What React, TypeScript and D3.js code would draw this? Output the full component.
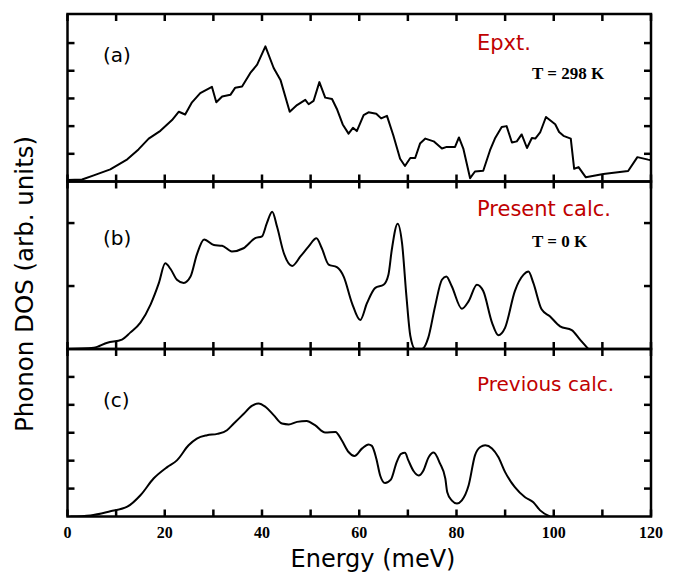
import * as d3 from "d3";

// Phonon DOS: [energy (meV), DOS (arb. units)]
const exptDos: [number, number][] = [
  [0, 0.05], [3, 0.07], [5.4, 0.22], [8.8, 0.44], [12.3, 0.8], [14.6, 1.16], [16.7, 1.55],
  [19.1, 1.83], [21.5, 2.22], [22.9, 2.52], [24.2, 2.42], [25.6, 2.86], [27.3, 3.19],
  [29.7, 3.42], [30.6, 2.86], [31.8, 3.07], [33.5, 3.13], [34.5, 3.39], [35.9, 3.43],
  [37.6, 3.92], [39.0, 4.22], [40.7, 4.88], [42.4, 4.1], [43.8, 3.67], [45.7, 2.52],
  [47.2, 2.76], [48.9, 2.95], [49.6, 2.79], [50.6, 2.91], [51.8, 3.59], [53.0, 3.03],
  [54.4, 2.98], [55.4, 2.62], [56.6, 2.06], [57.8, 1.73], [58.7, 1.94], [59.5, 1.82],
  [60.9, 2.4], [61.9, 2.5], [63.5, 2.45], [64.5, 2.28], [65.7, 2.37], [67.0, 1.67],
  [68.4, 0.82], [69.4, 0.56], [70.5, 0.85], [71.5, 0.85], [72.5, 1.37], [73.6, 1.55],
  [75.3, 1.45], [77.0, 1.19], [78.0, 1.25], [79.7, 1.25], [80.5, 1.59], [81.4, 1.19],
  [82.8, 0.12], [83.8, 0.36], [85.5, 0.39], [86.9, 1.13], [87.9, 1.55], [89.3, 1.97],
  [90.3, 2.0], [91.4, 1.41], [92.4, 1.45], [93.4, 1.7], [94.5, 1.21], [95.5, 1.57],
  [96.2, 1.55], [97.2, 1.77], [98.4, 2.33], [100.3, 2.07], [101.1, 1.79], [102.0, 1.65],
  [103.5, 1.55], [104.2, 0.46], [105.1, 0.52], [106.6, 0.15], [110.2, 0.27], [115.3, 0.38],
  [117.2, 0.88], [119.4, 0.79], [120, 0.77],
];

const presentDos: [number, number][] = [
  [0, 0], [5.4, 0.02], [8.2, 0.1], [11.2, 0.15], [12.9, 0.26], [15.0, 0.42], [17.1, 0.71],
  [18.8, 1.05], [20.1, 1.36], [21.2, 1.27], [22.5, 1.1], [23.9, 1.05], [25.3, 1.15],
  [26.6, 1.5], [28.1, 1.74], [30.1, 1.65], [31.8, 1.64], [33.8, 1.55], [36.2, 1.6],
  [38.6, 1.76], [40.0, 1.79], [41.0, 2.0], [42.1, 2.18], [43.1, 1.94], [44.5, 1.52],
  [46.2, 1.32], [47.9, 1.47], [49.6, 1.63], [51.2, 1.76], [52.3, 1.6], [53.7, 1.34],
  [55.4, 1.3], [56.8, 1.15], [58.5, 0.73], [60.2, 0.46], [61.6, 0.73], [63.3, 0.97],
  [65.0, 1.02], [66.0, 1.18], [66.7, 1.58], [67.9, 1.99], [68.8, 1.68], [69.7, 0.84],
  [70.5, 0.21], [71.5, 0], [72.9, 0], [74.2, 0.18], [75.6, 0.68], [77.0, 1.1], [77.9, 1.15],
  [79.0, 1.0], [81.1, 0.64], [82.5, 0.76], [84.2, 1.02], [85.5, 0.92], [87.3, 0.42],
  [88.6, 0.22], [90.0, 0.34], [92.0, 0.92], [93.8, 1.18], [94.8, 1.23], [95.8, 1.05],
  [97.5, 0.63], [99.2, 0.52], [101.3, 0.36], [103.7, 0.3], [105.4, 0.15], [107.1, 0],
];

const previousDos: [number, number][] = [
  [0.6, 0], [4.7, 0.04], [8.8, 0.19], [12.3, 0.35], [15.0, 0.76], [17.7, 1.36], [20.5, 1.77],
  [22.5, 2.01], [24.9, 2.55], [26.6, 2.79], [28.7, 2.91], [30.8, 2.96], [32.8, 3.09],
  [34.2, 3.33], [36.2, 3.67], [37.9, 3.96], [39.3, 4.05], [40.7, 3.93], [42.4, 3.63],
  [44.1, 3.33], [45.5, 3.3], [47.2, 3.39], [49.2, 3.42], [50.9, 3.27], [53.0, 3.01],
  [55.1, 3.03], [56.4, 2.73], [57.8, 2.31], [59.0, 2.17], [60.6, 2.44], [61.9, 2.58],
  [62.6, 2.53], [63.5, 2.08], [64.3, 1.47], [65.3, 1.2], [66.5, 1.32], [67.7, 1.95],
  [68.6, 2.24], [69.4, 2.28], [70.1, 2.01], [71.2, 1.62], [72.2, 1.47], [73.2, 1.65],
  [74.2, 2.1], [75.3, 2.29], [76.6, 1.9], [77.7, 1.36], [78.1, 0.87], [79.0, 0.58],
  [80.1, 0.47], [81.1, 0.58], [82.5, 1.12], [83.8, 2.19], [84.9, 2.49], [85.9, 2.55],
  [87.3, 2.44], [88.6, 2.13], [90.0, 1.59], [92.0, 1.05], [94.1, 0.69], [95.8, 0.51],
  [97.2, 0.22], [99.2, 0],
];

const xTicks = d3.range(0, 121, 10);
const xLabels = [0, 20, 40, 60, 80, 100, 120];

const panels = [
  { tag: "(a)", tagY: 48, name: "Epxt.", nameY: 36, nameSize: 21, temp: "T = 298 K", data: exptDos, yMax: 6.05, yTicks: [1, 2, 3, 4, 5], smooth: false },
  { tag: "(b)", tagY: 63, name: "Present calc.", nameY: 34.5, nameSize: 21, temp: "T = 0 K", data: presentDos, yMax: 2.66, yTicks: [1, 2], smooth: true },
  { tag: "(c)", tagY: 57.5, name: "Previous calc.", nameY: 41.5, nameSize: 20, temp: "", data: previousDos, yMax: 6.0, yTicks: [1, 2, 3, 4, 5], smooth: true },
];

const W = 681, H = 575;
const left = 67.5, right = 651;
const top = 14, panelH = 167.5;
const tick = 7;
const sans = "'DejaVu Sans', sans-serif";
const serif = "'Liberation Serif', 'Times New Roman', serif";
const red = "#c00000";

export default function App() {
  const x = d3.scaleLinear().domain([0, 120]).range([left, right]);

  return (
    <svg width={W} height={H} style={{ position: "absolute", left: 0, top: 0, background: "#fff" }}>
      <defs>
        {panels.map((p, i) => (
          <clipPath id={`clip${i}`} key={i}>
            <rect x={left} y={top + i * panelH} width={right - left} height={panelH} />
          </clipPath>
        ))}
      </defs>
      {panels.map((p, i) => {
        const y0 = top + i * panelH;
        const y1 = y0 + panelH;
        const y = d3.scaleLinear().domain([0, p.yMax]).range([y1, y0]);
        const line = d3.line<[number, number]>()
          .x(d => x(d[0]))
          .y(d => y(d[1]))
          .curve(p.smooth ? d3.curveMonotoneX : d3.curveLinear);
        return (
          <g key={i}>
            <path d={line(p.data) ?? ""} fill="none" stroke="#000" strokeWidth={2}
              strokeLinejoin="round" clipPath={`url(#clip${i})`} />
            {xTicks.map(t => (
              <g key={t}>
                <line x1={x(t)} x2={x(t)} y1={y0} y2={y0 + tick} stroke="#000" strokeWidth={2.5} />
                <line x1={x(t)} x2={x(t)} y1={y1} y2={y1 - tick} stroke="#000" strokeWidth={2.5} />
              </g>
            ))}
            {p.yTicks.map(t => (
              <g key={t}>
                <line x1={left} x2={left + tick} y1={y(t)} y2={y(t)} stroke="#000" strokeWidth={2.5} />
                <line x1={right} x2={right - tick} y1={y(t)} y2={y(t)} stroke="#000" strokeWidth={2.5} />
              </g>
            ))}
            <rect x={left} y={y0} width={right - left} height={panelH} fill="none" stroke="#000" strokeWidth={2.5} />
            <text x={103} y={y0 + p.tagY} fontFamily={sans} fontSize={20} fill="#000">{p.tag}</text>
            <text x={477} y={y0 + p.nameY} fontFamily={sans} fontSize={p.nameSize} fill={red}>{p.name}</text>
            {p.temp && (
              <text x={532} y={y0 + 65} fontFamily={serif} fontWeight="bold" fontSize={17} fill="#000">{p.temp}</text>
            )}
          </g>
        );
      })}
      {xLabels.map(t => (
        <text key={t} x={x(t)} y={538} textAnchor="middle" fontFamily={serif} fontWeight="bold" fontSize={16}>{t}</text>
      ))}
      <text x={373} y={567} textAnchor="middle" fontFamily={sans} fontSize={24}>Energy (meV)</text>
      <text transform="translate(33,284) rotate(-90)" textAnchor="middle" fontFamily={sans} fontSize={24.5}>
        Phonon DOS (arb. units)
      </text>
    </svg>
  );
}
